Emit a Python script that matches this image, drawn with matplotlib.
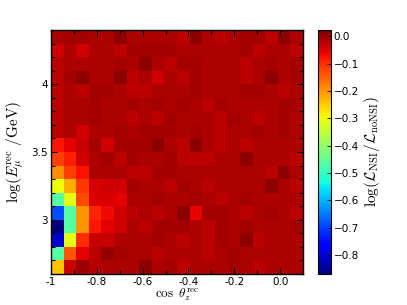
import numpy as np
import matplotlib
matplotlib.use("Agg")
import matplotlib.pyplot as plt
from matplotlib.ticker import MultipleLocator

plt.rcParams['mathtext.fontset'] = 'cm'
plt.rcParams['font.family'] = 'DejaVu Sans'

# bin edges of the histogram
cos_edges = np.round(np.arange(-1.0, 0.1001, 0.055), 3)
loge_edges = np.round(np.arange(2.6, 4.4001, 0.1), 3)

# log-likelihood ratio per bin, rows from log(E)=2.6 (bottom) up to 4.4
llr = [
    [-0.245, -0.033, 0.000, -0.020, -0.015, -0.015, -0.015, 0.010, -0.015, -0.005, -0.025, -0.015, -0.015, -0.015, -0.005, -0.015, -0.025, -0.015, -0.015, -0.015],
    [-0.465, -0.140, -0.056, -0.025, 0.005, -0.005, -0.015, -0.015, -0.025, -0.015, -0.015, -0.015, -0.025, -0.015, -0.005, -0.015, -0.015, -0.015, -0.015, -0.015],
    [-0.810, -0.310, -0.100, -0.033, -0.035, -0.015, -0.015, -0.015, -0.005, -0.015, -0.025, -0.015, -0.025, -0.005, -0.015, 0.010, -0.025, -0.015, -0.015, -0.015],
    [-0.870, -0.465, -0.200, -0.080, -0.055, -0.040, -0.015, -0.025, -0.005, -0.005, -0.005, -0.015, -0.025, -0.005, -0.015, -0.005, -0.015, -0.015, -0.015, -0.005],
    [-0.690, -0.465, -0.200, -0.095, -0.065, -0.040, -0.025, -0.015, -0.025, -0.015, 0.010, -0.058, -0.005, -0.005, -0.015, -0.025, -0.015, -0.005, -0.015, -0.025],
    [-0.465, -0.310, -0.130, -0.050, -0.050, -0.055, -0.015, -0.015, -0.005, -0.015, -0.015, -0.005, -0.015, -0.025, -0.015, -0.005, -0.015, -0.015, -0.015, -0.015],
    [-0.300, -0.220, -0.110, -0.045, -0.040, -0.040, -0.005, -0.015, -0.015, -0.025, -0.005, -0.015, -0.025, -0.015, -0.015, -0.015, -0.015, 0.010, -0.015, -0.025],
    [-0.190, -0.120, -0.075, -0.015, -0.015, -0.015, -0.025, -0.025, -0.005, -0.005, -0.015, -0.015, -0.015, -0.015, -0.015, -0.015, -0.015, -0.025, 0.010, -0.015],
    [-0.120, -0.087, -0.040, -0.015, -0.005, -0.025, -0.005, -0.015, -0.015, -0.005, -0.025, -0.025, -0.025, -0.015, -0.015, 0.010, -0.015, -0.015, -0.015, -0.025],
    [-0.080, -0.056, -0.033, -0.005, -0.040, -0.005, -0.005, -0.005, 0.010, -0.015, -0.025, 0.010, -0.015, -0.025, -0.015, -0.025, -0.015, -0.015, -0.015, -0.015],
    [-0.025, -0.015, -0.040, -0.015, -0.015, -0.005, -0.015, -0.005, -0.005, -0.005, -0.015, -0.005, -0.015, -0.025, -0.015, -0.015, -0.005, -0.015, -0.005, -0.015],
    [-0.025, -0.015, -0.015, -0.005, -0.015, -0.015, -0.025, -0.015, -0.025, -0.005, -0.015, -0.015, -0.015, -0.025, -0.005, -0.015, -0.025, -0.015, -0.005, -0.015],
    [-0.025, -0.015, -0.015, -0.005, -0.015, -0.015, -0.005, -0.015, -0.005, -0.015, -0.005, -0.015, -0.025, -0.005, -0.015, -0.015, -0.015, -0.015, -0.005, -0.005],
    [-0.025, -0.015, -0.025, -0.005, -0.005, -0.015, -0.025, -0.025, -0.015, -0.015, -0.015, -0.005, -0.015, -0.015, -0.015, -0.005, -0.005, -0.015, -0.025, -0.015],
    [-0.025, -0.005, 0.010, -0.015, -0.015, 0.010, -0.025, -0.015, -0.040, -0.015, -0.025, -0.005, -0.015, -0.015, -0.015, -0.025, -0.015, 0.010, -0.015, -0.005],
    [-0.025, -0.015, -0.015, -0.015, -0.015, -0.005, -0.015, 0.010, -0.015, -0.025, -0.005, -0.005, -0.015, -0.015, -0.015, -0.025, -0.015, -0.005, -0.015, -0.005],
    [-0.040, -0.015, -0.040, -0.015, -0.015, -0.025, -0.005, -0.005, -0.005, -0.005, -0.015, -0.015, -0.015, -0.015, -0.015, -0.005, -0.025, -0.015, -0.015, -0.025],
    [-0.015, -0.005, -0.005, -0.015, -0.015, 0.010, -0.015, -0.015, -0.015, -0.015, -0.025, 0.010, -0.015, -0.025, -0.015, -0.005, -0.005, -0.025, 0.010, -0.015],
]

x_major = [-1.0, -0.8, -0.6, -0.4, -0.2, 0.0]
x_labels = ['-1', '-0.8', '-0.6', '-0.4', '-0.2', '0.0']
y_major = [3.0, 3.5, 4.0]
y_labels = ['3', '3.5', '4']
cb_ticks = [0.0, -0.1, -0.2, -0.3, -0.4, -0.5, -0.6, -0.7, -0.8]

fig = plt.figure(figsize=(4.07, 3.05), dpi=100)
ax = fig.add_axes([51/407, 1 - 274/305, 252/407, 244/305])
cax = fig.add_axes([318/407, 1 - 274/305, 13/407, 244/305])

mesh = ax.pcolormesh(cos_edges, loge_edges, np.array(llr), cmap='jet',
                     vmin=-0.87, vmax=0.023)
ax.set_xlim(-1.0, 0.1)
ax.set_ylim(2.6, 4.4)

ax.set_xticks(x_major)
ax.set_xticklabels(x_labels)
ax.set_yticks(y_major)
ax.set_yticklabels(y_labels)
ax.xaxis.set_minor_locator(MultipleLocator(0.1))
ax.yaxis.set_minor_locator(MultipleLocator(0.1))
ax.tick_params(which='both', direction='in', top=True, right=True,
               labelsize=7.5, width=0.8, color='k', pad=2)
ax.tick_params(which='major', length=4)
ax.tick_params(which='minor', length=3)
for s in ax.spines.values():
    s.set_linewidth(1.0)

ax.set_xlabel(r'$\cos\ \theta_z^{\rm rec}$', fontsize=9.5, labelpad=0)
ax.set_ylabel(r'$\log(E_\mu^{\rm rec}\ /{\rm GeV})$', fontsize=11, labelpad=4)

cb = fig.colorbar(mesh, cax=cax, ticks=cb_ticks)
cb.ax.tick_params(labelsize=7.5, direction='in', length=3, width=0.6, pad=2)
cb.outline.set_linewidth(0.8)
cb.set_label(r'$\log(\mathcal{L}_{\rm NSI}/\mathcal{L}_{\rm noNSI})$', fontsize=11, labelpad=2)

fig.savefig('out.png', dpi=100)
